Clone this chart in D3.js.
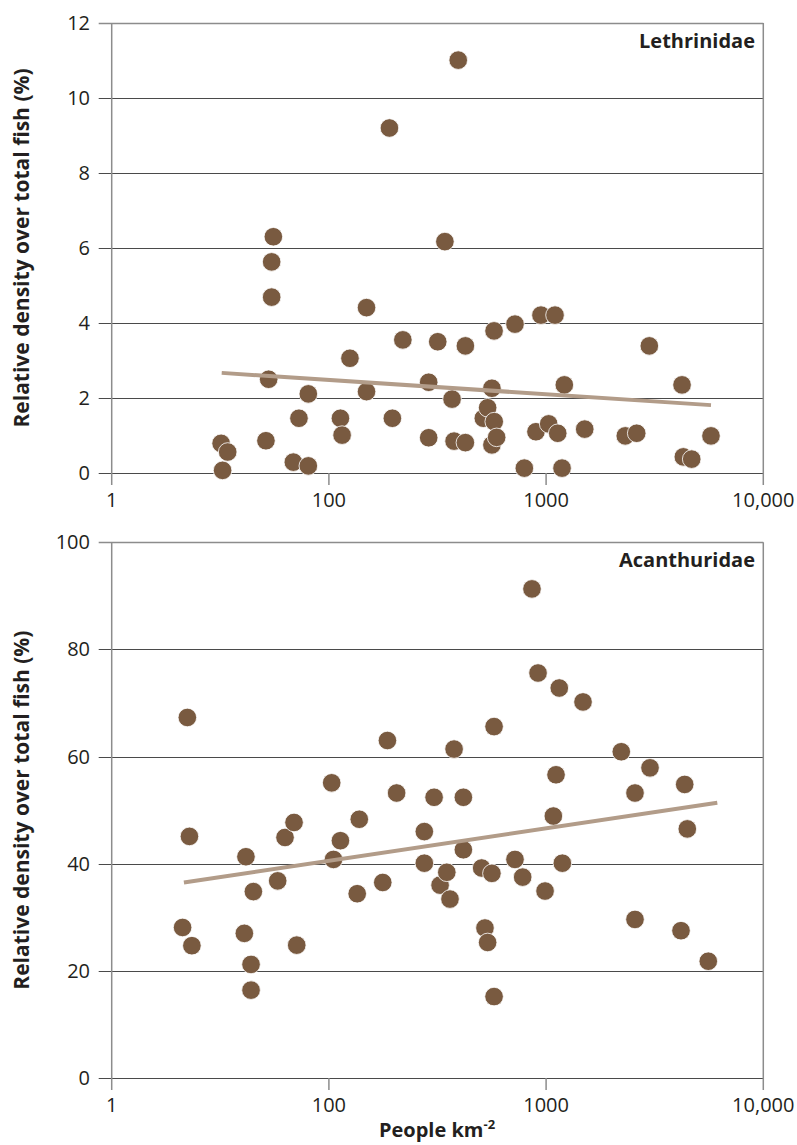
<!DOCTYPE html>
<html>
<head>
<meta charset="utf-8">
<script src="https://cdn.jsdelivr.net/npm/d3@7"></script>
<style>
  html, body { margin: 0; padding: 0; background: #fff; }
  svg { display: block; font-family: "Open Sans", "Noto Sans", sans-serif; }
</style>
</head>
<body>
<svg id="chart" width="797" height="1145"></svg>
<script>
// Population density (people per km²) shared x ticks
const xTickValues = [10, 100, 1000, 10000];
const xTickLabels = ["1", "100", "1000", "10,000"];

// Lethrinidae: relative density (%) against people km-2
const lethX = [31.9, 34.2, 32.4, 55.5, 54.5, 54.5, 52.8, 51.3, 68.6, 80.4, 72.8, 80.4,
  113, 115, 125, 149, 149, 190, 196, 219, 288, 288, 317, 342, 369, 377, 394, 425, 425,
  514, 538, 563, 563, 576, 577, 592, 719, 794, 898, 947, 1028, 1099, 1131, 1184, 1213,
  1506, 2315, 2613, 2987, 4225, 4284, 4681, 5743];
const lethY = [0.79, 0.56, 0.07, 6.30, 5.63, 4.69, 2.50, 0.86, 0.29, 0.19, 1.46, 2.11,
  1.46, 1.01, 3.06, 4.41, 2.17, 9.20, 1.46, 3.55, 2.42, 0.94, 3.50, 6.17, 1.97, 0.85, 11.01, 3.39, 0.81,
  1.46, 1.74, 2.26, 0.75, 3.79, 1.37, 0.95, 3.97, 0.13, 1.10, 4.21, 1.31, 4.21, 1.06, 0.13, 2.35,
  1.17, 0.99, 1.06, 3.39, 2.35, 0.43, 0.37, 0.99];
const lethTrendX = [32.1, 5743];
const lethTrendY = [2.67, 1.81];
const lethTicks = [0, 2, 4, 6, 8, 10, 12];

// Acanthuridae: relative density (%) against people km-2
const acanX = [21.2, 22.3, 22.8, 23.4, 40.8, 41.5, 43.8, 43.8, 44.9, 58.1, 62.8, 69.1, 71.1,
  103, 105, 113, 135, 138, 177, 186, 205, 275, 275, 305, 325, 349, 361, 377, 416, 416,
  505, 523, 538, 563, 576, 576, 719, 780, 861, 918, 989, 1080, 1111, 1150, 1188, 1479,
  2219, 2566, 2566, 3009, 4179, 4346, 4468, 5581];
const acanY = [28.1, 67.3, 45.1, 24.7, 27.0, 41.3, 21.2, 16.4, 34.8, 36.8, 44.9, 47.7, 24.8,
  55.1, 40.8, 44.3, 34.4, 48.3, 36.5, 63.0, 53.2, 46.0, 40.1, 52.4, 36.0, 38.4, 33.4, 61.4, 52.4, 42.6,
  39.2, 28.0, 25.3, 38.2, 65.6, 15.2, 40.8, 37.5, 91.3, 75.6, 34.9, 48.9, 56.6, 72.8, 40.1, 70.2,
  60.9, 53.2, 29.6, 57.9, 27.5, 54.8, 46.5, 21.8];
const acanTrendX = [21.5, 6140];
const acanTrendY = [36.5, 51.4];
const acanTicks = [0, 20, 40, 60, 80, 100];

const panels = [
  { name: "Lethrinidae", xs: lethX, ys: lethY, tx: lethTrendX, ty: lethTrendY,
    ticks: lethTicks, top: 23, bottom: 473 },
  { name: "Acanthuridae", xs: acanX, ys: acanY, tx: acanTrendX, ty: acanTrendY,
    ticks: acanTicks, top: 542.3, bottom: 1078 }
];

const svg = d3.select("#chart");
const left = 111.7, right = 763.3;
const x = d3.scaleLog().domain([10, 10000]).range([left, right]);

const gridColor = "#4a4a4a";
const axisColor = "#8c8c8c";
const dotColor = "#795a40";
const trendColor = "#b29c89";

panels.forEach(p => {
  const yMax = p.ticks[p.ticks.length - 1];
  const y = d3.scaleLinear().domain([0, yMax]).range([p.bottom, p.top]);
  const g = svg.append("g");

  // horizontal gridlines with left tick stubs
  g.selectAll("line.grid").data(p.ticks).join("line")
    .attr("x1", left - 13).attr("x2", right)
    .attr("y1", d => Math.round(y(d)) + 0.5).attr("y2", d => Math.round(y(d)) + 0.5)
    .attr("stroke", d => d === yMax ? axisColor : gridColor)
    .attr("stroke-width", d => d === yMax ? 1.4 : 1);

  // y tick labels
  g.selectAll("text.ytick").data(p.ticks).join("text")
    .attr("x", 90).attr("y", d => y(d))
    .attr("dy", "0.35em")
    .attr("text-anchor", "end")
    .attr("font-size", 20).attr("fill", "#231f20")
    .text(d => d);

  // left axis and right frame edge
  [left, right].forEach(xx => {
    g.append("line")
      .attr("x1", xx).attr("x2", xx)
      .attr("y1", p.top).attr("y2", p.bottom + 12)
      .attr("stroke", axisColor).attr("stroke-width", 1.5);
  });

  // x ticks
  g.selectAll("line.xtick").data(xTickValues.slice(1, 3)).join("line")
    .attr("x1", d => x(d)).attr("x2", d => x(d))
    .attr("y1", p.bottom).attr("y2", p.bottom + 12)
    .attr("stroke", axisColor).attr("stroke-width", 1.5);

  g.selectAll("text.xtick").data(xTickValues).join("text")
    .attr("x", d => x(d)).attr("y", p.bottom + 34)
    .attr("text-anchor", "middle")
    .attr("font-size", 20).attr("fill", "#231f20")
    .text((d, i) => xTickLabels[i]);

  // y axis title
  const cy = (p.top + p.bottom) / 2;
  g.append("text")
    .attr("transform", `translate(29,${cy}) rotate(-90)`)
    .attr("text-anchor", "middle")
    .attr("font-size", 21).attr("font-weight", "bold").attr("fill", "#231f20")
    .text("Relative density over total fish (%)");

  // family label
  g.append("text")
    .attr("x", 755).attr("y", p.top + 25)
    .attr("text-anchor", "end")
    .attr("font-size", 20).attr("font-weight", "bold").attr("fill", "#231f20")
    .text(p.name);

  // data points
  const pts = p.xs.map((v, i) => [v, p.ys[i]]);
  g.selectAll("circle").data(pts).join("circle")
    .attr("cx", d => x(d[0])).attr("cy", d => y(d[1]))
    .attr("r", 9.3)
    .attr("fill", dotColor)
    .attr("stroke", "#fff").attr("stroke-width", 0.8);

  // fitted trend line
  const trend = p.tx.map((v, i) => [v, p.ty[i]]);
  g.append("path")
    .datum(trend)
    .attr("d", d3.line().x(d => x(d[0])).y(d => y(d[1])))
    .attr("fill", "none")
    .attr("stroke", trendColor).attr("stroke-width", 4);
});

// x axis title
const xt = svg.append("text")
  .attr("x", 437).attr("y", 1137)
  .attr("text-anchor", "middle")
  .attr("font-size", 20).attr("font-weight", "bold").attr("fill", "#231f20");
xt.append("tspan").text("People km");
xt.append("tspan").attr("dy", -8).attr("font-size", 13).text("-2");
</script>
</body>
</html>
